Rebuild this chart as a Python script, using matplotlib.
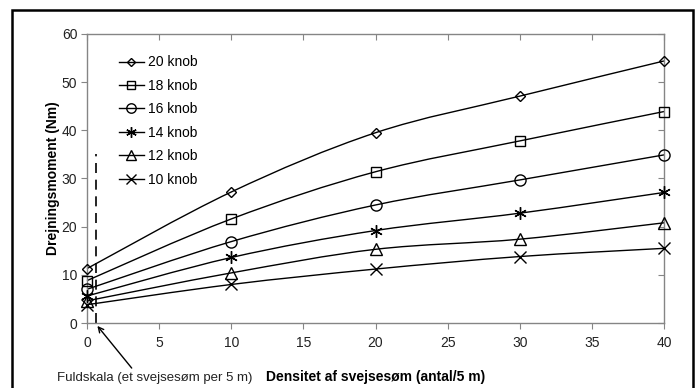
import matplotlib
matplotlib.use("Agg")
import matplotlib.pyplot as plt
from matplotlib.path import Path
from matplotlib.patches import PathPatch, Rectangle

plt.rcParams["font.family"] = ["Liberation Sans", "DejaVu Sans"]

density = [0, 10, 20, 30, 40]
labels = ["20 knob", "18 knob", "16 knob", "14 knob", "12 knob", "10 knob"]
torque = {
    "20 knob": [11.3, 27.2, 39.5, 47.1, 54.4],
    "18 knob": [8.8, 21.6, 31.4, 37.8, 43.9],
    "16 knob": [7.0, 16.9, 24.5, 29.7, 34.9],
    "14 knob": [5.6, 13.6, 19.2, 22.8, 27.1],
    "12 knob": [4.6, 10.4, 15.3, 17.4, 20.8],
    "10 knob": [3.8, 8.0, 11.2, 13.8, 15.5],
}
markers = {
    "20 knob": ("D", 5),
    "18 knob": ("s", 7),
    "16 knob": ("o", 8),
    "14 knob": ((6, 2, 0), 9),
    "12 knob": ("^", 8),
    "10 knob": ("x", 8),
}
fullscale_x = 0.62
fullscale_top = 35


def smooth_path(xs, ys):
    # Catmull-Rom style bezier, like Excel's smoothed lines
    pts = list(zip(xs, ys))
    verts = [pts[0]]
    codes = [Path.MOVETO]
    n = len(pts)
    for i in range(n - 1):
        p0 = pts[i - 1] if i > 0 else pts[i]
        p1 = pts[i]
        p2 = pts[i + 1]
        p3 = pts[i + 2] if i + 2 < n else pts[i + 1]
        c1 = (p1[0] + (p2[0] - p0[0]) / 6, p1[1] + (p2[1] - p0[1]) / 6)
        c2 = (p2[0] - (p3[0] - p1[0]) / 6, p2[1] - (p3[1] - p1[1]) / 6)
        verts += [c1, c2, p2]
        codes += [Path.CURVE4] * 3
    return Path(verts, codes)


fig = plt.figure(figsize=(6.97, 3.88), dpi=100)
# outer chart frame (bottom edge falls outside the picture)
fig.patches.append(Rectangle((0.017, -0.03), 0.977, 1.004, transform=fig.transFigure,
                             fill=False, edgecolor="black", linewidth=1.8))
ax = fig.add_axes([0.1248, 0.1675, 0.8279, 0.7449])

for name in labels:
    ys = torque[name]
    ax.add_patch(PathPatch(smooth_path(density, ys), fill=False, edgecolor="black",
                           linewidth=1.0, clip_on=False))
    m, ms = markers[name]
    ax.plot(density, ys, linestyle="none", marker=m, markersize=ms, markerfacecolor="none",
            markeredgecolor="black", markeredgewidth=1.0, clip_on=False, zorder=3)
    # legend proxy
    ax.plot([], [], color="black", linewidth=1.0, marker=m, markersize=ms * 0.85,
            markerfacecolor="none", markeredgecolor="black", label=name)

ax.plot([fullscale_x, fullscale_x], [0, fullscale_top], color="black", linestyle=(0, (6, 4)),
        linewidth=1.2)

ax.set_xlim(0, 40)
ax.set_ylim(0, 60)
ax.set_xticks(range(0, 41, 5))
ax.set_yticks(range(0, 61, 10))
for s in ax.spines.values():
    s.set_color("#858585")
    s.set_linewidth(1.0)
ax.tick_params(axis="both", which="both", colors="#858585", labelcolor="#222222",
               labelsize=10, length=4)
ax.tick_params(top=True, right=True, labeltop=False, labelright=False)
ax.tick_params(axis="x", which="both", direction="out", pad=5)
ax.tick_params(axis="y", which="both", direction="out", pad=3)
# top and right ticks point inward
for t in ax.xaxis.get_major_ticks():
    t.tick2line.set_marker(3)
for t in ax.yaxis.get_major_ticks():
    t.tick2line.set_marker(0)

ax.set_xlabel("Densitet af svejsesøm (antal/5 m)", fontsize=10, fontweight="bold", labelpad=15,
              x=0.5)
ax.set_ylabel("Drejningsmoment (Nm)", fontsize=10, fontweight="bold", labelpad=1)

ax.annotate("Fuldskala (et svejsesøm per 5 m)", xy=(fullscale_x + 0.1, -0.6),
            xytext=(-2.1, -11.4), textcoords="data", fontsize=9.5, color="#222222",
            ha="left", va="center", annotation_clip=False,
            arrowprops=dict(arrowstyle="->", color="black", linewidth=1.0,
                            shrinkA=1, shrinkB=0, relpos=(0.4, 1.0)))

leg = ax.legend(loc="upper left", bbox_to_anchor=(0.045, 0.945), frameon=False, fontsize=10,
                handlelength=1.8, handletextpad=0.3, labelspacing=0.68, borderaxespad=0)

fig.savefig("out.png", dpi=100)
